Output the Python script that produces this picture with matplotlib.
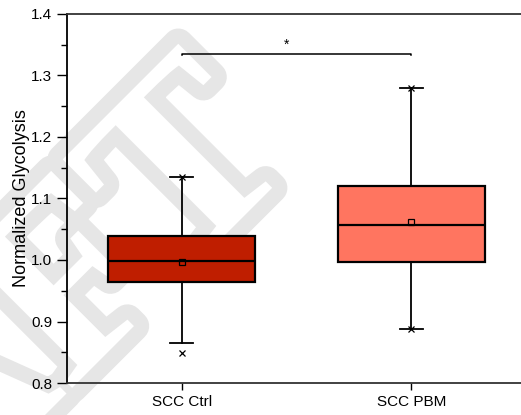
import matplotlib
matplotlib.use('Agg')
import matplotlib.pyplot as plt
import matplotlib.patheffects as pe

plt.rcParams['font.family'] = ['Liberation Sans', 'DejaVu Sans']

# dados
grupos = ['SCC Ctrl', 'SCC PBM']
q1 = [0.965, 0.997]
mediana = [0.999, 1.057]
q3 = [1.039, 1.121]
whis_baixo = [0.865, 0.887]
whis_alto = [1.135, 1.279]
media = [0.996, 1.062]
extremos = [[0.849, 1.135], [0.887, 1.279]]
cores = ['#BF1E00', '#FF7560']
signif_y = 1.335

fig = plt.figure(figsize=(5.21, 4.15), dpi=100)
ax = fig.add_axes([0.1286, 0.0771, 0.881, 0.8892])
ax.set_facecolor('none')

# marca d'agua (contorno cinza claro)
fig.text(300 / 521, 1 - 160 / 415, 'DRAFT', rotation=45, rotation_mode='anchor',
         fontsize=185, family='Liberation Serif', fontweight='bold',
         color='white', ha='right', va='baseline', zorder=-5,
         path_effects=[pe.Stroke(linewidth=22, foreground='#e6e6e6'), pe.Normal()])

stats = []
for i, g in enumerate(grupos):
    stats.append({'label': g, 'q1': q1[i], 'med': mediana[i], 'q3': q3[i],
                  'whislo': whis_baixo[i], 'whishi': whis_alto[i],
                  'mean': media[i], 'fliers': extremos[i]})

bp = ax.bxp(stats, positions=[1, 2], widths=0.64, patch_artist=True,
            showmeans=True, capwidths=0.1,
            boxprops=dict(linewidth=1.6, edgecolor='black'),
            medianprops=dict(color='black', linewidth=1.6),
            whiskerprops=dict(color='black', linewidth=1.3),
            capprops=dict(color='black', linewidth=1.3),
            meanprops=dict(marker='s', markersize=4, markerfacecolor='none',
                           markeredgecolor='black', markeredgewidth=0.9),
            flierprops=dict(marker='x', markersize=4, markeredgecolor='black',
                            markeredgewidth=0.9))
for caixa, cor in zip(bp['boxes'], cores):
    caixa.set_facecolor(cor)

# barra de significancia
ax.plot([1, 1, 2, 2], [signif_y - 0.002, signif_y, signif_y, signif_y - 0.002],
        color='black', linewidth=1.1)
ax.text(1.455, signif_y + 0.004, '*', ha='center', va='bottom', fontsize=10)

ax.set_xlim(0.5, 2.5)
ax.set_ylim(0.8, 1.4)
ax.set_yticks([0.8, 0.9, 1.0, 1.1, 1.2, 1.3, 1.4])
ax.set_yticks([0.85, 0.95, 1.05, 1.15, 1.25, 1.35], minor=True)
ax.set_ylabel('Normalized Glycolysis', fontsize=13, labelpad=1)
ax.tick_params(axis='y', which='major', length=7, width=1, labelsize=11, direction='out')
ax.tick_params(axis='y', which='minor', length=4, width=1, direction='out')
ax.tick_params(axis='x', length=5, width=1, labelsize=11, direction='out')
for s in ax.spines.values():
    s.set_linewidth(1.3)
    s.set_color('#333333')
ax.spines['left'].set_color('black')

fig.savefig('out.png', dpi=100)
